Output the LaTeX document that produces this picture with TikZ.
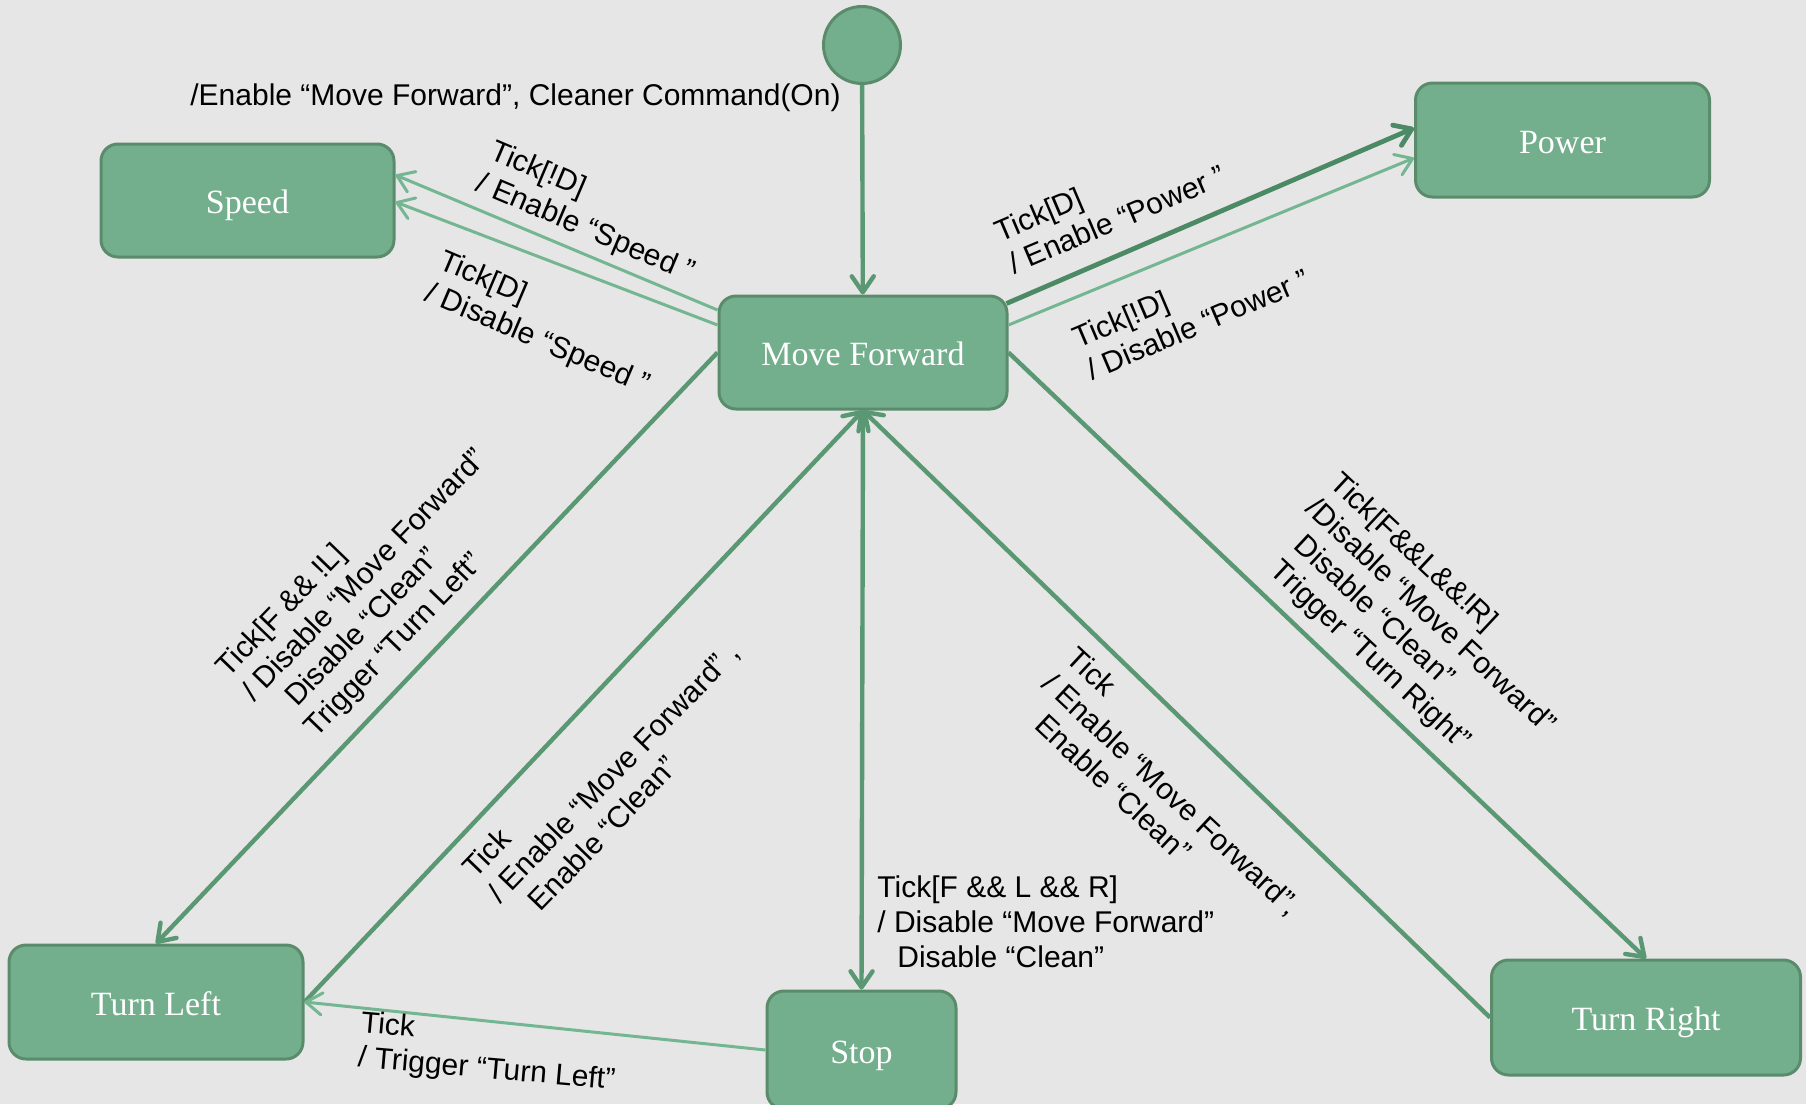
\documentclass[tikz,border=0pt]{standalone}
\usepackage{fontspec}
\setsansfont{Liberation Sans}
\newfontfamily\statefont{Liberation Serif}
\usetikzlibrary{arrows.meta,calc}
\definecolor{bg}{HTML}{E6E6E6}
\definecolor{boxfill}{HTML}{73AE8D}
\definecolor{boxdraw}{HTML}{5A8C6C}
\definecolor{darkline}{HTML}{5A9874}
\definecolor{darkerline}{HTML}{4C8A66}
\definecolor{lightline}{HTML}{74B691}
\begin{document}
\begin{tikzpicture}[x=0.5pt,y=-0.5pt,
  state/.style={draw=boxdraw, line width=1.5pt, fill=boxfill, rounded corners=8.5pt,
    text=white, font=\statefont\fontsize{17}{20}\selectfont, inner sep=0pt,
    text height=13pt, text depth=0pt},
  initstate/.style={circle, draw=boxdraw, line width=1.5pt, fill=boxfill, minimum size=38.5pt, inner sep=0pt},
  lbl/.style={font=\sffamily\fontsize{15}{17.5}\selectfont, align=left, inner sep=0pt, text=black},
  tip/.style={-{Straight Barb[length=8pt,width=11pt,round]}},
  darkln/.style={draw=darkline, line width=2.2pt, tip},
  darkerln/.style={draw=darkerline, line width=2.4pt, tip},
  lightln/.style={draw=lightline, line width=1.5pt, tip}
]
\fill[bg] (0,0) rectangle (1806,1104);
\useasboundingbox (0,0) rectangle (1806,1104);

% states
\node[initstate] (init) at (862,45) {};
\node[state, minimum width=144pt, minimum height=56.5pt] (MF) at (863,352.5) {Move Forward};
\node[state, minimum width=146.5pt, minimum height=56.5pt] (Speed) at (247.5,200.5) {Speed};
\node[state, minimum width=147pt, minimum height=57pt] (Power) at (1562.5,140) {Power};
\node[state, minimum width=147pt, minimum height=57pt] (TL) at (156,1002) {Turn Left};
\node[state, minimum width=94.5pt, minimum height=59pt] (Stop) at (861.5,1050) {Stop};
\node[state, minimum width=154.5pt, minimum height=57.5pt] (TR) at (1646,1017.5) {Turn Right};

% transitions
\draw[darkln] (init) -- (MF);
\draw[lightln] ([yshift=21.25pt]MF.west) -- ([yshift=12.75pt]Speed.east);
\draw[lightln] ([yshift=13.75pt]MF.west) -- ([yshift=-0.75pt]Speed.east);
\draw[darkerln] ([xshift=-1pt,yshift=24.5pt]MF.east) -- ([yshift=6pt]Power.west);
\draw[lightln] ([yshift=13.75pt]MF.east) -- ([yshift=-9pt]Power.west);
\draw[darkln] (MF.west) -- (TL.north);
\draw[darkln] (TL.east) -- (MF.south);
\draw[darkln] (MF.south) -- (Stop.north);
\draw[lightln] (Stop.west) -- (TL.east);
\draw[darkln] (TR.west) -- (MF.south);
\draw[darkln] (MF.east) -- (TR.north);

% labels
\node[lbl, anchor=east] (l0) at (841,98) {/Enable “Move Forward”, Cleaner Command(On)};
\node[lbl, rotate=-23] (l1) at (592,213) {Tick[!D]\\/ Enable “Speed ”};
\node[lbl, rotate=-23] (l2) at (544,324) {Tick[D]\\/ Disable “Speed ”};
\node[lbl, rotate=23] (l3) at (1110,203) {Tick[D]\\/ Enable “Power ”};
\node[lbl, rotate=23] (l4) at (1191,308) {Tick[!D]\\/ Disable “Power ”};
\node[lbl, rotate=46] (l5) at (378,588) {Tick[F \&\& !L]\\/ Disable “Move Forward”\\\hspace*{13pt}Disable “Clean”\\\hspace*{9pt}Trigger “Turn Left”};
\node[lbl, rotate=46] (l6) at (613,772) {Tick\\/ Enable “Move Forward” ,\\\hspace*{11pt}Enable “Clean”};
\node[lbl, anchor=west] (l7) at (877,921.5) {Tick[F \&\& L \&\& R]\\/ Disable “Move Forward”\\\hspace*{10pt}Disable “Clean”};
\node[lbl, rotate=-5] (l8) at (488,1053) {Tick\\/ Trigger “Turn Left”};
\node[lbl, rotate=-43] (l9) at (1172,794) {Tick\\/ Enable “Move Forward”,\\\hspace*{11pt}Enable “Clean”};
\node[lbl, rotate=-43] (l10) at (1418,630) {Tick[F\&\&L\&\&!R]\\/Disable “Move Forward”\\\hspace*{8pt}Disable “Clean”\\\hspace*{8pt}Trigger “Turn Right”};
\end{tikzpicture}
\end{document}
